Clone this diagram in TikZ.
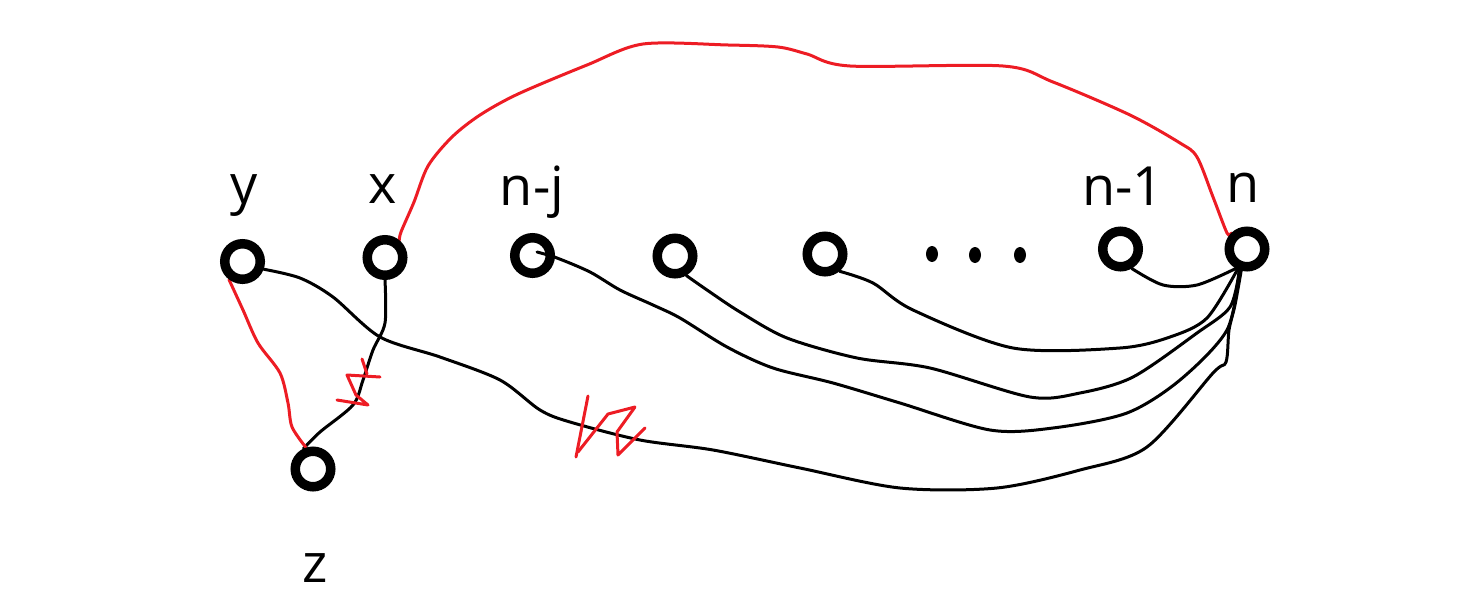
\documentclass[tikz,border=0pt]{standalone}
\usepackage{fontspec}
\setmainfont{Open Sans}
\usetikzlibrary{calc,backgrounds}
\definecolor{pred}{HTML}{ED1C24}
\tikzset{
  ring/.style={circle, draw=black, line width=9.5pt, minimum size=35.5pt, inner sep=0pt},
  lbl/.style={anchor=base, inner sep=0pt, font=\fontsize{54}{60}\selectfont},
  blk/.style={draw=black, line width=3pt, line cap=round, line join=round},
  rd/.style={draw=pred, line width=3pt, line cap=round, line join=round},
  dotmark/.style={fill=black, draw=none}
}
\begin{document}
\begin{tikzpicture}[x=1pt,y=-1pt]
\useasboundingbox (0,0) rectangle (1459,610);
% nodes
\node[ring] (y)  at (242.5,261.5) {};
\node[ring] (x)  at (385,257.5) {};
\node[ring] (nj) at (532.5,255.5) {};
\node[ring] (n2) at (675,256) {};
\node[ring] (n3) at (825,254) {};
\node[ring] (n1) at (1120.5,249) {};
\node[ring] (n)  at (1247,249) {};
\node[ring] (z)  at (313,469) {};
% labels
\node[lbl] (ly)  at (244,203) {y};
\node[lbl] (lx)  at (383,203) {x};
\node[lbl] (lnj) at (532,205) {n-j};
\node[lbl] (ln1) at (1123,205) {n-1};
\node[lbl] (ln)  at (1243,202) {n};
\node[lbl] (lz)  at (315,582) {z};
% dots
\fill[dotmark] (932,254) ellipse [x radius=6pt, y radius=8pt];
\fill[dotmark] (975,255) ellipse [x radius=6pt, y radius=8pt];
\fill[dotmark] (1020,255) ellipse [x radius=6pt, y radius=8pt];
\begin{pgfonlayer}{background}
% black connectors
\draw[blk] plot[smooth, tension=0.5] coordinates {(y.-20) (300,278) (333,297) (380,337) (440,357) (500,380) (540,410) (570,422) (640,440) (713,450) (800,468) (900,488) (997,488) (1080,470) (1147,447) (1213,373) (1226,362) (1229,330) (1235,305) (n.-105)};
\draw[blk] plot[smooth, tension=0.5] coordinates {($(nj.center)+(4.5,-3.5)$) (557,258) (590,272) (620,290) (653,305) (680,318) (727,347) (773,368) (833,383) (900,403) (990,430) (1053,428) (1127,413) (1180,380) (1227,330) (n.-110)};
\draw[blk] plot[smooth, tension=0.5] coordinates {(n2.-60) (707,290) (740,312) (787,338) (857,358) (930,368) (1030,397) (1080,393) (1133,377) (1197,333) (1230,307) (n.-110)};
\draw[blk] plot[smooth, tension=0.5] coordinates {(n3.-50) (873,283) (913,310) (1013,348) (1120,348) (1170,337) (1207,318) (n.-115)};
\draw[blk] plot[smooth, tension=0.5] coordinates {(n1.-60) (1163,285) (1197,285) (n.-120)};
\draw[blk] plot[smooth, tension=0.5] coordinates {(x.south) (385,323) (373,350) (363,380) (353,405) (320,432) (z.115)};
% red connectors
\draw[rd] plot[smooth, tension=0.5] coordinates {(x.50) (401,232) (414,202) (428,166) (452,137) (480,115) (518,94) (587,65) (643,44) (728,45) (778,47) (807,54) (850,66) (1003,66) (1053,82) (1130,115) (1180,143) (1197,157) (1213,197) (1227,233) (n.135)};
\draw[rd] plot[smooth, tension=0.5] coordinates {(y.-127) (243,310) (258,343) (280,373) (288,403) (292,427) (z.108)};
% red scribbles
\draw[rd] (362,359) -- (367,374);
\draw[rd] (380,377) -- (347,375) -- (356,395) -- (368,405) -- (337,400);
\draw[rd] (588,396) -- (576,457);
\draw[rd] (578,452) -- (608,414) -- (635,407) -- (617,432) -- (618,455) -- (645,428);
\end{pgfonlayer}
\end{tikzpicture}
\end{document}
